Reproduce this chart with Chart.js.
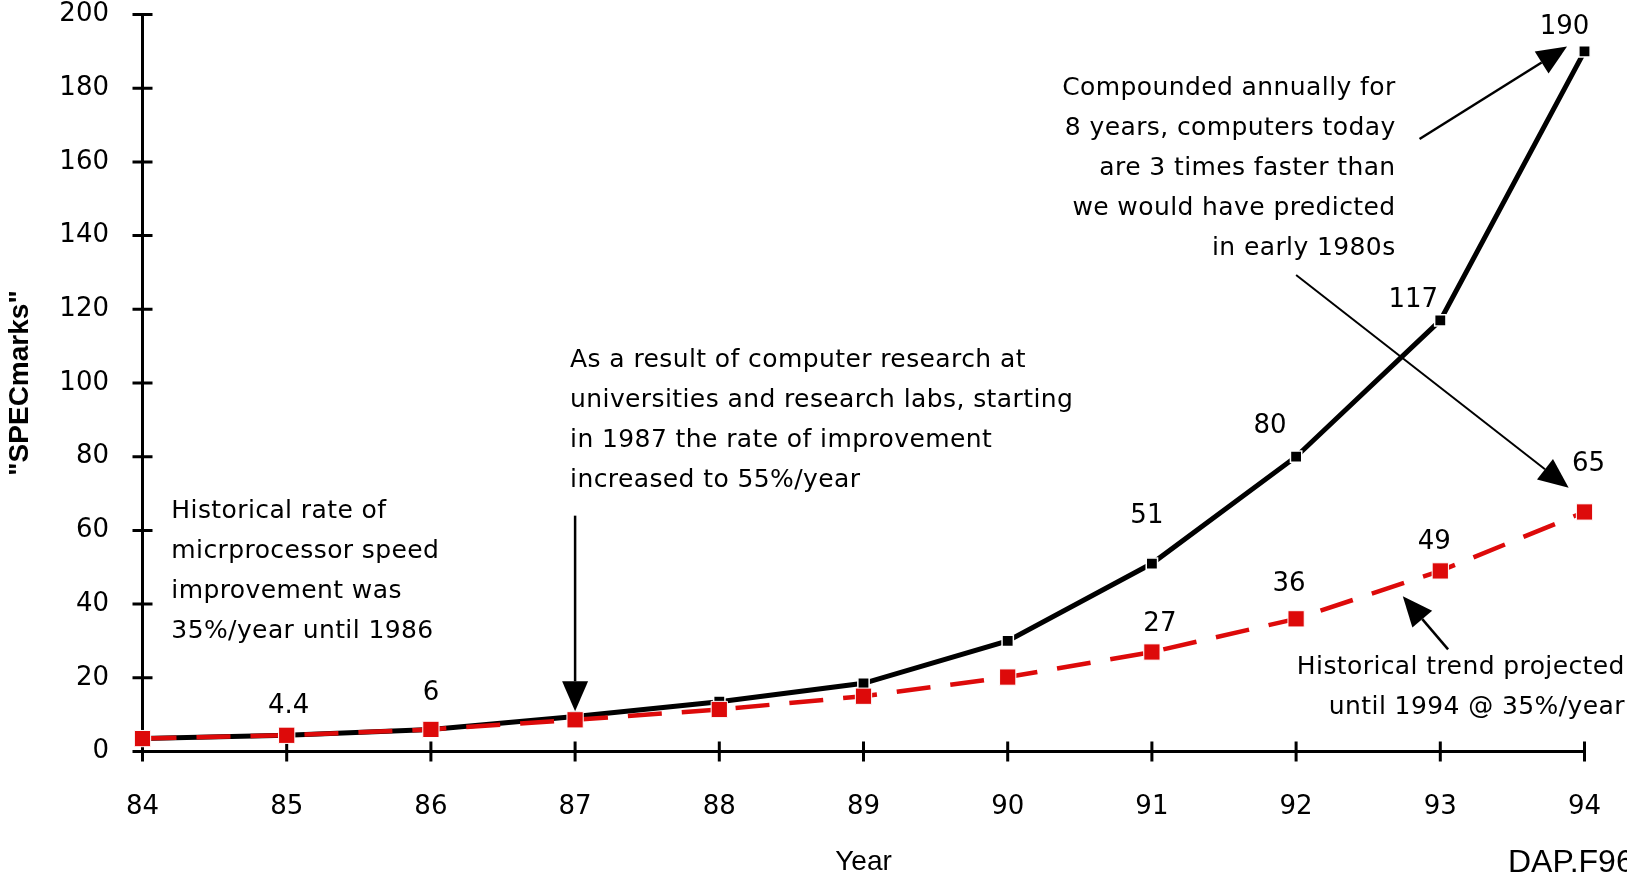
<!DOCTYPE html>
<html>
<head>
<meta charset="utf-8">
<script src="https://cdn.jsdelivr.net/npm/chart.js@4.4.1/dist/chart.umd.min.js"></script>
<style>
  html, body { margin: 0; padding: 0; background: #fff; }
  #wrap { width: 1627px; height: 875px; position: relative; }
</style>
</head>
<body>
<div id="wrap"><canvas id="specChart"></canvas></div>
<script>
const years = ['84', '85', '86', '87', '88', '89', '90', '91', '92', '93', '94'];
const actualSpecmarks = [3.5, 4.4, 6, 9.5, 13.5, 18.5, 30, 51, 80, 117, 190];
const projectedSpecmarks = [3.5, 4.4, 6, 8.6, 11.4, 15, 20.2, 27, 36, 49, 65];
const yTicks = [0, 20, 40, 60, 80, 100, 120, 140, 160, 180, 200];

// indexes of the points that carry a value label
const actualLabelled = [7, 8, 9, 10];
const projectedLabelled = [1, 2, 7, 8, 9, 10];

const NUM_FONT = '26px "DejaVu Sans"';
const TEXT_FONT = '25px "DejaVu Sans"';

// label nudges (px) so they sit like the original
const actualLabelShift = { 7: [-5, -47], 8: [-26, -30], 9: [-27, -20], 10: [-20, -24] };
const projectedLabelShift = { 1: [2, -29], 2: [0, -36], 7: [8, -28], 8: [-7, -35], 9: [-6, -29], 10: [4, -48] };

// notes and arrows, placed in axis units (x = year index, y = SPECmarks)
const notes = [
  { lines: ['Historical rate of', 'micrprocessor speed', 'improvement was', '35%/year until 1986'], x: 0.2, y: 65.1, align: 'left' },
  { lines: ['As a result of computer research at', 'universities and research labs, starting', 'in 1987 the rate of improvement', 'increased to 55%/year'], x: 2.965, y: 106.2, align: 'left' },
  { lines: ['Compounded annually for', '8 years, computers today', 'are 3 times faster than', 'we would have predicted', 'in early 1980s'], x: 8.69, y: 180, align: 'right' },
  { lines: ['Historical trend projected', 'until 1994 @ 35%/year'], x: 10.28, y: 22.7, align: 'right' }
];
const arrows = [
  { from: [3, 64], to: [3, 10.9], w: 2.5 },
  { from: [8.856, 166.2], to: [9.879, 191.3], w: 2.5 },
  { from: [8.0, 129.3], to: [9.89, 71.6], w: 2 },
  { from: [9.054, 27.7], to: [8.74, 42.1], w: 2.5 }
];

const crossTicks = {
  id: 'crossTicks',
  beforeDatasetsDraw(chart) {
    const { ctx, scales: { x, y } } = chart;
    ctx.save();
    ctx.strokeStyle = '#000';
    ctx.lineWidth = 3;
    ctx.beginPath();
    y.ticks.forEach(t => {
      const py = y.getPixelForValue(t.value);
      ctx.moveTo(x.left - 10, py);
      ctx.lineTo(x.left + 10, py);
    });
    x.ticks.forEach((t, i) => {
      const px = x.getPixelForTick(i);
      ctx.moveTo(px, y.bottom - 10);
      ctx.lineTo(px, y.bottom + 10);
    });
    ctx.stroke();
    ctx.restore();
  }
};

function drawArrow(ctx, x1, y1, x2, y2, w) {
  const len = Math.hypot(x2 - x1, y2 - y1);
  const ux = (x2 - x1) / len, uy = (y2 - y1) / len;
  const head = 30, half = 13;
  const bx = x2 - ux * head, by = y2 - uy * head;
  ctx.lineWidth = w;
  ctx.beginPath();
  ctx.moveTo(x1, y1);
  ctx.lineTo(bx, by);
  ctx.stroke();
  ctx.beginPath();
  ctx.moveTo(x2, y2);
  ctx.lineTo(bx - uy * half, by + ux * half);
  ctx.lineTo(bx + uy * half, by - ux * half);
  ctx.closePath();
  ctx.fill();
}

const annotations = {
  id: 'annotations',
  afterDatasetsDraw(chart) {
    const { ctx, scales: { x, y } } = chart;
    ctx.save();
    ctx.fillStyle = '#000';
    ctx.strokeStyle = '#000';

    // value labels
    ctx.font = NUM_FONT;
    ctx.textAlign = 'center';
    ctx.textBaseline = 'middle';
    const blackPts = chart.getDatasetMeta(1).data;
    const redPts = chart.getDatasetMeta(0).data;
    actualLabelled.forEach(i => {
      const s = actualLabelShift[i];
      ctx.fillText(String(actualSpecmarks[i]), blackPts[i].x + s[0], blackPts[i].y + s[1]);
    });
    projectedLabelled.forEach(i => {
      const s = projectedLabelShift[i];
      ctx.fillText(String(projectedSpecmarks[i]), redPts[i].x + s[0], redPts[i].y + s[1]);
    });

    // notes
    ctx.font = TEXT_FONT;
    ctx.letterSpacing = '0.4px';
    notes.forEach(n => {
      ctx.textAlign = n.align;
      const px = x.getPixelForValue(n.x);
      const py = y.getPixelForValue(n.y);
      n.lines.forEach((line, k) => ctx.fillText(line, px, py + k * 40));
    });
    ctx.letterSpacing = '0px';

    // arrows
    arrows.forEach(a => {
      drawArrow(ctx,
        x.getPixelForValue(a.from[0]), y.getPixelForValue(a.from[1]),
        x.getPixelForValue(a.to[0]), y.getPixelForValue(a.to[1]), a.w);
    });

    // figure tag
    ctx.font = '32px "Liberation Sans"';
    ctx.textAlign = 'left';
    ctx.textBaseline = 'alphabetic';
    ctx.fillText('DAP.F96', 1508, 872);
    ctx.restore();
  }
};

function noScalePadding(scale) {
  scale.paddingTop = 0;
  scale.paddingBottom = 0;
  scale.paddingLeft = 0;
  scale.paddingRight = 0;
}

const ctx = document.getElementById('specChart').getContext('2d');
const chart = new Chart(ctx, {
  type: 'line',
  data: {
    labels: years,
    datasets: [{
      label: 'Historical trend @ 35%/year',
      data: projectedSpecmarks,
      borderColor: '#dd0a0a',
      backgroundColor: '#dd0a0a',
      borderWidth: 4.5,
      borderDash: [34, 20],
      pointStyle: 'rect',
      pointRadius: 11.5,
      pointBorderColor: '#fff',
      pointBorderWidth: 1,
      pointBackgroundColor: '#dd0a0a',
      tension: 0,
      clip: false,
      order: 0
    }, {
      label: 'SPECmarks',
      data: actualSpecmarks,
      borderColor: '#000',
      backgroundColor: '#000',
      borderWidth: 5,
      pointStyle: 'rect',
      pointRadius: 8,
      pointBorderColor: '#fff',
      pointBorderWidth: 1.5,
      pointBackgroundColor: '#000',
      tension: 0,
      clip: false,
      order: 1
    }]
  },
  options: {
    responsive: true,
    maintainAspectRatio: false,
    animation: false,
    layout: { padding: { top: 14.5, right: 42.5, left: 0, bottom: 0 } },
    plugins: {
      legend: { display: false },
      tooltip: { enabled: false }
    },
    scales: {
      x: {
        type: 'category',
        offset: false,
        grid: { display: false, drawTicks: false },
        border: { display: true, color: '#000', width: 3 },
        ticks: { color: '#000', font: { family: 'DejaVu Sans', size: 26, lineHeight: 1 }, padding: 42.5, maxRotation: 0 },
        title: { display: true, text: 'Year', color: '#000', font: { family: 'Liberation Sans', size: 28, lineHeight: 0.9 }, padding: 0 },
        afterFit(scale) { scale.height = 123.5; noScalePadding(scale); }
      },
      y: {
        min: 0,
        max: 200,
        afterBuildTicks(scale) { scale.ticks = yTicks.map(v => ({ value: v })); },
        grid: { display: false, drawTicks: false },
        border: { display: true, color: '#000', width: 3 },
        ticks: { color: '#000', font: { family: 'DejaVu Sans', size: 26, lineHeight: 1 }, padding: 33.5 },
        title: { display: true, text: '"SPECmarks"', color: '#000', font: { family: 'Liberation Sans', size: 28, weight: 'bold' }, padding: { top: 3, bottom: 0 } },
        afterFit(scale) { scale.width = 142.5; noScalePadding(scale); }
      }
    }
  },
  plugins: [crossTicks, annotations]
});
</script>
</body>
</html>
